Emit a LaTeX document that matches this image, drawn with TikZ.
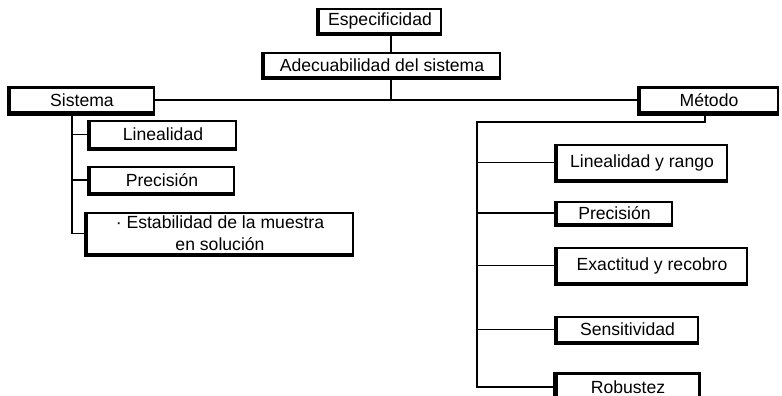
\documentclass[tikz,border=0pt]{standalone}
\usepackage{fontspec}
\setmainfont{Liberation Sans}
\usetikzlibrary{calc}

\begin{document}
\begin{tikzpicture}[x=0.5pt,y=-0.5pt,
    caja/.style={draw,line width=1.1pt,inner sep=0pt,align=center,
      font=\fontsize{8.8}{11}\selectfont},
    borde/.style={line width=2pt},
    linea/.style={line width=0.7pt}]
  \useasboundingbox (0,0) rectangle (782,396);
  % parte de arriba
  \node[caja,minimum width=61pt,minimum height=12pt] (esp) at (380,21) {Especificidad};
  \node[caja,minimum width=118pt,minimum height=12pt] (adec) at (382,65) {Adecuabilidad del sistema};
  \node[caja,minimum width=72pt,minimum height=12.5pt] (sis) at (82,100) {Sistema};
  \node[caja,minimum width=69pt,minimum height=12.5pt] (met) at (709,100) {Método};
  % sistema
  \node[caja,minimum width=73pt,minimum height=13.5pt] (lin) at (163,134.5) {Linealidad};
  \node[caja,minimum width=72pt,minimum height=13pt] (pre1) at (162,180) {Precisión};
  \node[caja,minimum width=133pt,minimum height=20.5pt] (est) at (220,233.5)
    {· Estabilidad de la muestra\\en solución};
  % metodo
  \node[caja,minimum width=85pt,minimum height=17.5pt] (lin2) at (642,162.5) {Linealidad y rango};
  \node[caja,minimum width=57.5pt,minimum height=11pt] (pre2) at (614.5,213) {Precisión};
  \node[caja,minimum width=95pt,minimum height=17.5pt] (exa) at (652,265.5) {Exactitud y recobro};
  \node[caja,minimum width=70.5pt,minimum height=12.5pt] (sen) at (627.5,329.5) {Sensitividad};
  \node[caja,minimum width=71.5pt,minimum height=13.5pt] (rob) at (628,387) {Robustez};
  \foreach \n in {esp,adec,sis,met,lin,pre1,est,lin2,pre2,exa,sen,rob}
    \draw[borde] (\n.north west) -- (\n.south west) -- (\n.south east);

  % lineas
  \draw[linea] ([xshift=5.5pt]esp.south) -- ([xshift=5.5pt]esp.south |- adec.north);
  \draw[linea] ([xshift=4.5pt]adec.south) -- ([xshift=4.5pt]adec.south |- sis.east);
  \draw[linea] (sis.east) -- (met.west);
  \coordinate (ts) at ([xshift=-5pt]sis.south);
  \draw[linea] (ts) |- (est.west);
  \foreach \n in {lin,pre1}
    \draw[linea] (ts |- \n.west) -- (\n.west);
  \coordinate (tm) at (477,122);
  \draw[linea] ([xshift=-2pt]met.south) |- (tm) |- (rob.west);
  \foreach \n in {lin2,pre2,exa,sen}
    \draw[linea] (tm |- \n.west) -- (\n.west);
\end{tikzpicture}
\end{document}
